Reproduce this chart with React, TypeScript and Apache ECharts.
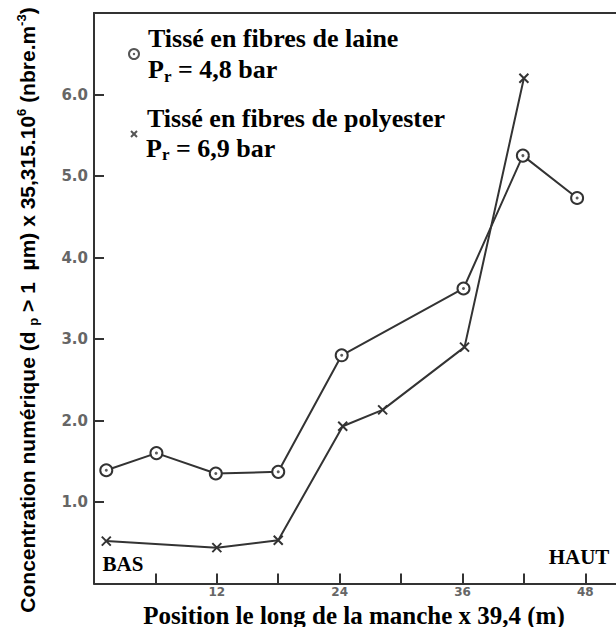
import React, { useEffect, useRef } from "react";
import * as echarts from "echarts";

// Laine (wool) – circles
const laineX = [1.2, 6.1, 11.9, 18.0, 24.2, 36.1, 41.9, 47.2];
const laineY = [1.39, 1.6, 1.35, 1.37, 2.8, 3.62, 5.25, 4.73];
// Polyester – crosses
const polyX = [1.2, 12.0, 18.0, 24.3, 28.2, 36.2, 42.0];
const polyY = [0.52, 0.44, 0.53, 1.93, 2.13, 2.9, 6.2];

const yTickLabels = ["1.0", "2.0", "3.0", "4.0", "5.0", "6.0"];
const xTickLabels = ["12", "24", "36", "48"];

const INK = "#333";
const SERIF = "'Liberation Serif', 'Times New Roman', serif";
const SANS = "'Liberation Sans', Arial, sans-serif";
const TICKFONT = "'DejaVu Sans', sans-serif";

export default function App() {
  const ref = useRef<HTMLDivElement>(null);
  useEffect(() => {
    if (!ref.current) return;
    const chart = echarts.init(ref.current, undefined, { renderer: "svg" });
    const laine = laineX.map((x, i) => [x, laineY[i]]);
    const poly = polyX.map((x, i) => [x, polyY[i]]);
    const richP = {
      m: { fontSize: 26, fontWeight: "bold", fontFamily: SERIF, lineHeight: 30, fill: "#000" },
      s: { fontSize: 17, fontWeight: "bold", fontFamily: SERIF, lineHeight: 17, verticalAlign: "bottom", fill: "#000" },
    };
    chart.setOption({
      animation: false,
      backgroundColor: "#fff",
      grid: { left: 94, top: 13, right: 0, bottom: 43.5, containLabel: false },
      xAxis: [
        {
          type: "value",
          min: 0,
          max: 51,
          interval: 6,
          splitLine: { show: false },
          axisLine: { show: true, lineStyle: { color: INK, width: 2 } },
          axisTick: { show: true, inside: true, length: 10, lineStyle: { color: INK, width: 2 } },
          axisLabel: {
            margin: 2,
            color: "#666",
            fontWeight: "bold",
            fontSize: 12,
            lineHeight: 12,
            fontFamily: TICKFONT,
            showMaxLabel: false,
            formatter: (v: number) => {
              const s = String(v);
              return xTickLabels.includes(s) ? s : "";
            },
          },
        },
        {
          type: "value",
          position: "top",
          min: 0,
          max: 51,
          splitLine: { show: false },
          axisLine: { show: true, lineStyle: { color: INK, width: 2 } },
          axisTick: { show: false },
          axisLabel: { show: false },
        },
      ],
      yAxis: {
        type: "value",
        min: 0,
        max: 7,
        interval: 1,
        splitLine: { show: false },
        axisLine: { show: true, lineStyle: { color: INK, width: 2 } },
        axisTick: { show: true, inside: true, length: 10, lineStyle: { color: INK, width: 2 } },
        axisLabel: {
          margin: 6,
          color: "#666",
          fontWeight: "bold",
          fontSize: 15,
          fontFamily: TICKFONT,
          formatter: (v: number) => {
            const s = v.toFixed(1);
            return yTickLabels.includes(s) ? s : "";
          },
        },
      },
      series: [
        {
          type: "line",
          data: laine,
          symbol: "circle",
          symbolSize: 12,
          lineStyle: { color: INK, width: 2 },
          itemStyle: { color: "#fff", borderColor: INK, borderWidth: 2 },
          z: 3,
        },
        {
          type: "scatter",
          data: laine,
          symbol: "circle",
          symbolSize: 3,
          itemStyle: { color: INK },
          z: 4,
        },
        {
          type: "line",
          data: poly,
          symbol: "path://M0,0L10,10M10,0L0,10",
          symbolSize: 9,
          lineStyle: { color: INK, width: 2 },
          itemStyle: { color: "none", borderColor: INK, borderWidth: 2 },
          z: 3,
        },
      ],
      graphic: [
        // legend markers
        { type: "circle", shape: { cx: 134, cy: 54, r: 5 }, style: { fill: "#fff", stroke: "#555", lineWidth: 2 } },
        { type: "circle", shape: { cx: 134, cy: 54, r: 1.2 }, style: { fill: "#555" } },
        { type: "line", shape: { x1: 131, y1: 131, x2: 137, y2: 137 }, style: { stroke: "#555", lineWidth: 2 } },
        { type: "line", shape: { x1: 137, y1: 131, x2: 131, y2: 137 }, style: { stroke: "#555", lineWidth: 2 } },
        // legend text
        {
          type: "text",
          x: 148,
          y: 38.5,
          style: {
            text: "Tissé en fibres de laine",
            font: `bold 26px ${SERIF}`,
            fill: "#000",
            textAlign: "left",
            textVerticalAlign: "middle",
          },
        },
        {
          type: "text",
          x: 148,
          y: 69.5,
          style: {
            text: "{m|P}{s|r}{m| = 4,8 bar}",
            fill: "#000",
            textAlign: "left",
            textVerticalAlign: "middle",
            rich: richP,
          },
        },
        {
          type: "text",
          x: 147,
          y: 118,
          style: {
            text: "Tissé en fibres de polyester",
            font: `bold 26px ${SERIF}`,
            fill: "#000",
            textAlign: "left",
            textVerticalAlign: "middle",
          },
        },
        {
          type: "text",
          x: 146,
          y: 148,
          style: {
            text: "{m|P}{s|r}{m| = 6,9 bar}",
            fill: "#000",
            textAlign: "left",
            textVerticalAlign: "middle",
            rich: richP,
          },
        },
        // BAS / HAUT
        {
          type: "text",
          x: 123,
          y: 563.5,
          style: { text: "BAS", font: `bold 21px ${SERIF}`, fill: "#000", textAlign: "center", textVerticalAlign: "middle" },
        },
        {
          type: "text",
          x: 579,
          y: 557,
          style: { text: "HAUT", font: `bold 21px ${SERIF}`, fill: "#000", textAlign: "center", textVerticalAlign: "middle" },
        },
        // x axis title
        {
          type: "text",
          x: 354,
          y: 615,
          style: {
            text: "Position le long de la manche x 39,4 (m)",
            font: `bold 25px ${SERIF}`,
            fill: "#000",
            textAlign: "center",
            textVerticalAlign: "middle",
          },
        },
        // y axis title
        {
          type: "text",
          x: 27,
          y: 310,
          rotation: Math.PI / 2,
          style: {
            text: "{m|Concentration numérique (d }{sub|p}{m| > 1  µm) x 35,315.10}{sup|6}{m| (nbre.m}{sup|-3}{m|)}",
            fill: "#000",
            textAlign: "center",
            textVerticalAlign: "middle",
            rich: {
              m: { fontSize: 21, fontWeight: "bold", fontFamily: SANS, lineHeight: 25, fill: "#000" },
              sup: { fontSize: 13, fontWeight: "bold", fontFamily: SANS, lineHeight: 13, verticalAlign: "top", fill: "#000" },
              sub: { fontSize: 13, fontWeight: "bold", fontFamily: SANS, lineHeight: 13, verticalAlign: "bottom", fill: "#000" },
            },
          },
        },
      ],
    });
    return () => chart.dispose();
  }, []);
  return (
    <div
      ref={ref}
      style={{ position: "absolute", left: 0, top: 0, width: 616, height: 627, background: "#fff" }}
    />
  );
}
